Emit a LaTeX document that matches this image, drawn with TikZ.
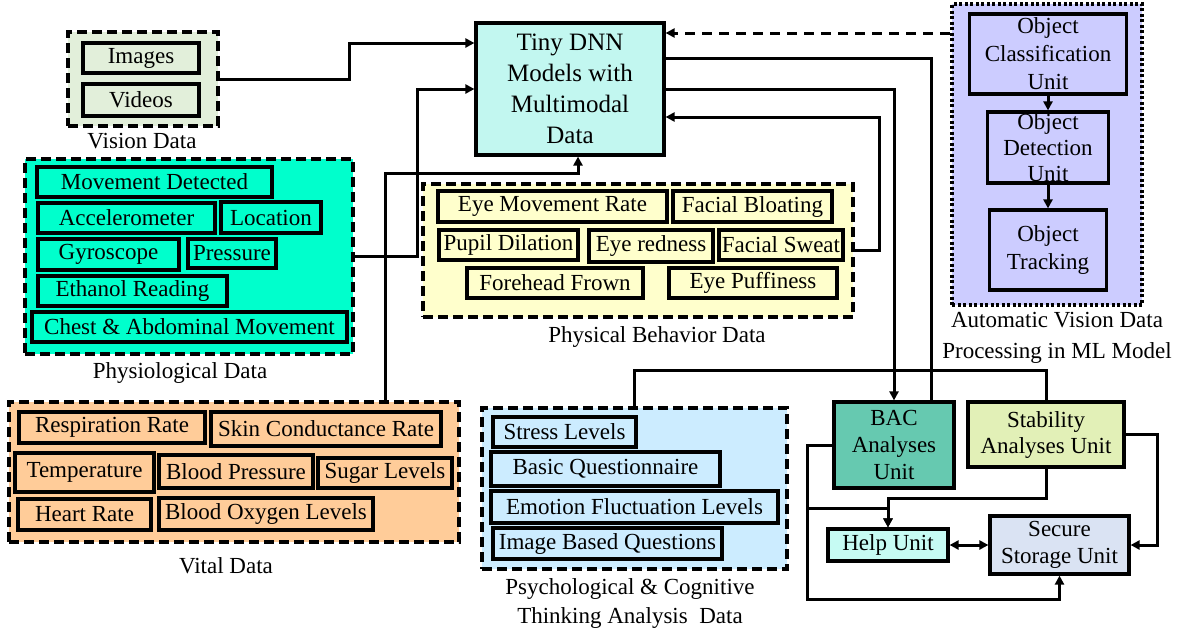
\documentclass[tikz,border=0pt]{standalone}
\usepackage{fontspec}
\setmainfont{Liberation Serif}
\usetikzlibrary{arrows.meta}
\definecolor{visfill}{HTML}{E2EFDA}
\definecolor{dnnfill}{HTML}{C2F7F0}
\definecolor{autfill}{HTML}{CCCCFF}
\definecolor{phyfill}{HTML}{00FFCC}
\definecolor{pbfill}{HTML}{FFFFCC}
\definecolor{vitfill}{HTML}{FFCC99}
\definecolor{psyfill}{HTML}{CCECFF}
\definecolor{bacfill}{HTML}{66C9B0}
\definecolor{stbfill}{HTML}{E2F0B7}
\definecolor{hlpfill}{HTML}{C6FBF3}
\definecolor{stofill}{HTML}{DAE3F3}

\begin{document}
\begin{tikzpicture}[x=1pt,y=-1pt,font=\fontsize{23}{27}\selectfont,
  sz/.style 2 args={minimum width=#1pt,minimum height=#2pt},
  grp/.style={draw,line width=4pt,dash pattern=on 10pt off 5pt,inner sep=0pt},
  item/.style={draw,line width=3.2pt,inner sep=0pt,fill=#1},
  conn/.style={line width=3pt},
  >={Triangle[length=9pt,width=9pt]}]
\useasboundingbox (0,0) rectangle (1187,635);

% vision data
\node[grp,fill=visfill,sz={150}{94}] (vis) at (143,79) {};
\node[item=visfill,sz={116}{30}] (img) at (141,58) {Images};
\node[item=visfill,sz={116}{32}] (vid) at (141,100) {Videos};
\node (vislbl) at (142,141) {Vision Data};

% the model
\node[item=dnnfill,sz={188}{132},align=center,font=\fontsize{25}{31}\selectfont] (dnn) at (570,89)
  {Tiny DNN\\Models with\\Multimodal\\Data};

% automatic vision processing
\node[draw,line width=4.5pt,dash pattern=on 3pt off 2.5pt,fill=autfill,sz={190}{301}] (aut) at (1047,154.5) {};
\node[item=autfill,sz={157}{80},align=center,font=\fontsize{23}{28}\selectfont] (ocl) at (1048,54) {Object\\Classification\\Unit};
\node[item=autfill,sz={121}{71},align=center,font=\fontsize{23}{26}\selectfont] (odt) at (1048,147.5) {Object\\Detection\\Unit};
\node[item=autfill,sz={117}{80},align=center,font=\fontsize{23}{28}\selectfont] (otr) at (1048,250) {Object\\Tracking};
\node[align=center,font=\fontsize{23}{31}\selectfont] (autlbl) at (1057,338) {Automatic Vision Data\\Processing in ML Model};

% physiological data
\node[grp,fill=phyfill,sz={328}{195}] (phy) at (189,256.5) {};
\node[item=phyfill,sz={235}{30}] (mov) at (154.5,182) {Movement Detected};
\node[item=phyfill,sz={177}{30}] (acc) at (126.5,218) {Accelerometer};
\node[item=phyfill,sz={100}{31}] (loc) at (271,217.5) {Location};
\node[item=phyfill,sz={141}{31}] (gyr) at (108.5,254.5) {Gyroscope};
\node[item=phyfill,sz={88}{29}] (pre) at (232,253.5) {Pressure};
\node[item=phyfill,sz={189}{30}] (eth) at (132.5,291) {Ethanol Reading};
\node[item=phyfill,sz={315}{30}] (che) at (189.5,327) {Chest \& Abdominal Movement};
\node (phylbl) at (180,373) {Physiological Data};

% physical behavior data
\node[grp,fill=pbfill,sz={430}{133}] (pb) at (638,250.5) {};
\node[item=pbfill,sz={229}{31}] (emr) at (552.5,206.5) {Eye Movement Rate};
\node[item=pbfill,sz={159}{31}] (fbl) at (752.5,206.5) {Facial Bloating};
\node[item=pbfill,sz={139}{30}] (pup) at (508.5,245) {Pupil Dilation};
\node[item=pbfill,sz={124}{32}] (red) at (651,246) {Eye redness};
\node[item=pbfill,sz={124}{30}] (swt) at (781,245) {Facial Sweat};
\node[item=pbfill,sz={176}{30}] (frw) at (555,283) {Forehead Frown};
\node[item=pbfill,sz={168}{30}] (puf) at (753,283) {Eye Puffiness};
\node (pblbl) at (657,337) {Physical Behavior Data};

% vital data
\node[grp,fill=vitfill,sz={450}{140}] (vit) at (234,472) {};
\node[item=vitfill,sz={186}{31}] (res) at (112,427.5) {Respiration Rate};
\node[item=vitfill,sz={230}{34}] (skn) at (326,429) {Skin Conductance Rate};
\node[item=vitfill,sz={139}{39}] (tmp) at (84.5,472.5) {Temperature};
\node[item=vitfill,sz={154}{33}] (bpr) at (236,471.5) {Blood Pressure};
\node[item=vitfill,sz={134}{30}] (sug) at (385,473) {Sugar Levels};
\node[item=vitfill,sz={133}{31}] (hrt) at (84.5,514.5) {Heart Rate};
\node[item=vitfill,sz={214}{32}] (box) at (266,514) {Blood Oxygen Levels};
\node (vitlbl) at (226,566) {Vital Data};

% psychological data
\node[grp,fill=psyfill,sz={305}{161}] (psy) at (634.5,488.5) {};
\node[item=psyfill,sz={143}{30}] (str) at (564.5,432) {Stress Levels};
\node[item=psyfill,sz={229}{34}] (bqs) at (605.5,469) {Basic Questionnaire};
\node[item=psyfill,sz={287}{32}] (efl) at (634.5,507) {Emotion Fluctuation Levels};
\node[item=psyfill,sz={229}{31}] (ibq) at (607.5,543.5) {Image Based Questions};
\node[align=center,font=\fontsize{23}{29}\selectfont] (psylbl) at (630,603) {Psychological \& Cognitive\\Thinking Analysis\ \ Data};

% analysis units
\node[item=bacfill,sz={120}{86},align=center] (bac) at (894,445) {BAC\\Analyses\\Unit};
\node[item=stbfill,sz={156}{65},align=center,font=\fontsize{23}{26}\selectfont] (stb) at (1046,434.5) {Stability\\Analyses Unit};
\node[item=hlpfill,sz={120}{32}] (hlp) at (888,545) {Help Unit};
\node[item=stofill,sz={139}{58},align=center] (sto) at (1059.5,545) {Secure\\Storage Unit};

% connectors
\draw[conn,->] (vis.east) -- ++(129,0) |- ([yshift=46pt]dnn.west);
\draw[conn,->] (phy.east) -- ++(62,0) |- (dnn.west);
\draw[conn,->] ([xshift=151pt]vit.north) -- ++(0,-227) -| ([xshift=8pt]dnn.south);
\draw[conn,->] (pb.east) -- ++(24,0) |- ([yshift=-28pt]dnn.east);
\draw[conn,->,dash pattern=on 10pt off 7pt] ([yshift=121.5pt]aut.west) -- ([yshift=56pt]dnn.east);
\draw[conn,->] (ocl) -- (odt);
\draw[conn,->] (odt) -- (otr);
\draw[conn,->] (dnn.east) -| (bac.north);
\draw[conn] ([yshift=31pt]dnn.east) -| ([xshift=37pt]bac.north);
\draw[conn] (psy.north) -- ++(0,-36) -| (stb.north);
\draw[conn,->] (bac.west) -- ++(-25,0) -- ++(0,154) -| (sto.south);
\draw[conn,->] ([xshift=-25pt,yshift=-63pt]bac.west) -| (hlp.north);
\draw[conn,->] (stb.south) -- ++(0,30) -| (hlp.north);
\draw[conn,->] (stb.east) -- ++(32,0) |- (sto.east);
\draw[conn,<->] (hlp.east) -- (sto.west);
\end{tikzpicture}
\end{document}
